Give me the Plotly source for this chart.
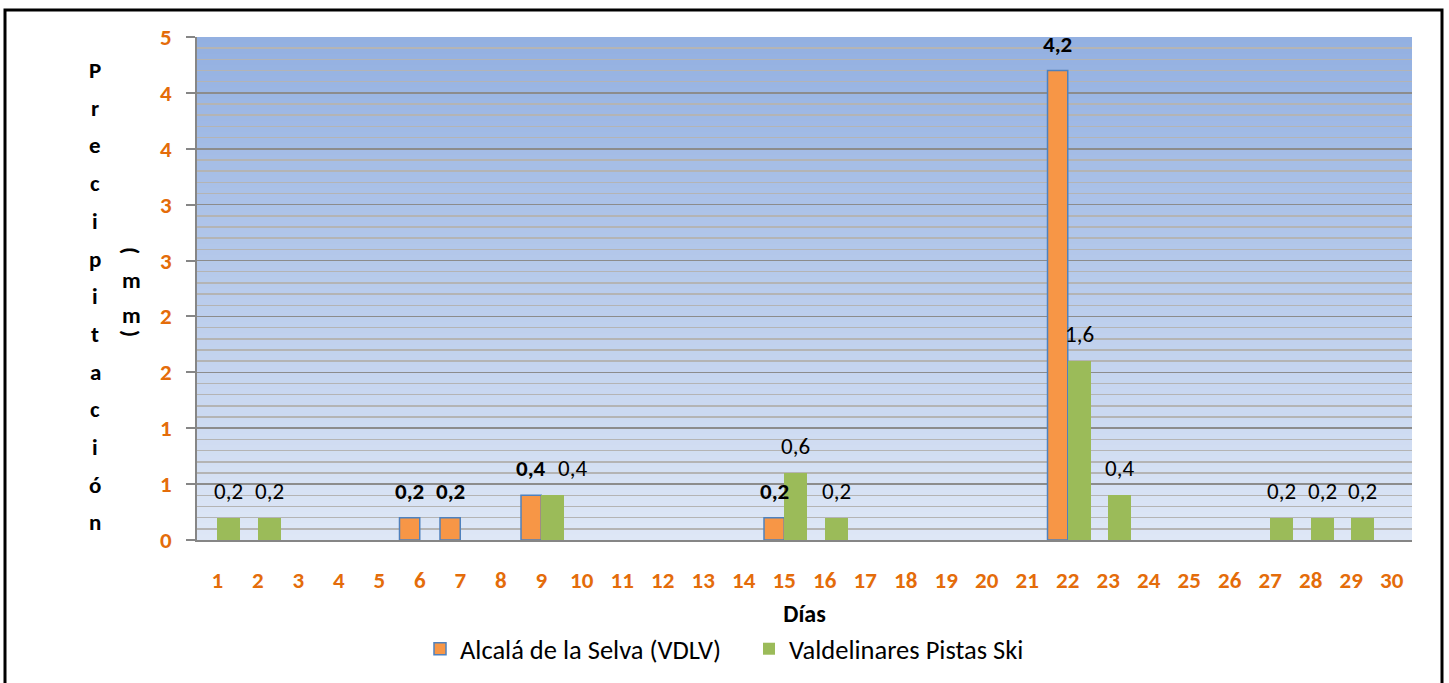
import plotly.graph_objects as go

# ---------------- data ----------------
days = list(range(1, 31))
alcala = [None, None, None, None, None, 0.2, 0.2, None, 0.4, None,
          None, None, None, None, 0.2, None, None, None, None, None,
          None, 4.2, None, None, None, None, None, None, None, None]
valdelinares = [0.2, 0.2, None, None, None, None, None, None, 0.4, None,
                None, None, None, None, 0.6, 0.2, None, None, None, None,
                None, 1.6, 0.4, None, None, None, 0.2, 0.2, 0.2, None]
series_names = ["Alcalá de la Selva (VDLV)", "Valdelinares Pistas Ski"]
x_ticktext = [str(d) for d in days]
y_tickvals = [0, 0.5, 1, 1.5, 2, 2.5, 3, 3.5, 4, 4.5]
y_ticktext = ["0", "1", "1", "2", "2", "3", "3", "4", "4", "5"]
x_title = "Días"
y_title_main = "Precipitación"
y_title_unit = "(mm)"

# ---------------- geometry / style ----------------
W, H = 1449, 683
# plot area in screen pixels
L, R, T, B = 197, 1412, 37, 540
FONT = "Carlito, Lato, sans-serif"
ORANGE = "#F79646"
GREEN = "#9BBB59"
BLUE = "#4F81BD"
TICKORANGE = "#E46C0A"


def px(x):
    return (x - L) / (R - L)


def py(y):
    return (B - y) / (B - T)


fig = go.Figure()
fig.add_trace(go.Bar(
    x=days, y=alcala, name=series_names[0], width=0.5, offset=-0.5,
    marker=dict(color=ORANGE, line=dict(color=BLUE, width=1.5)),
))
fig.add_trace(go.Bar(
    x=days, y=valdelinares, name=series_names[1], width=0.57, offset=0,
    marker=dict(color=GREEN, line=dict(width=0)),
))

annotations = []
# data labels
label_xshift_green = {9: 20}
for d, v in zip(days, alcala):
    if v:
        annotations.append(dict(
            x=d - 0.25, y=v, xref="x", yref="y", yshift=27, showarrow=False,
            text="<b>" + f"{v:.1f}".replace(".", ",") + "</b>",
            font=dict(family=FONT, size=23, color="#000000")))
for d, v in zip(days, valdelinares):
    if v:
        annotations.append(dict(
            x=d + 0.285, y=v, xref="x", yref="y", yshift=27,
            xshift=label_xshift_green.get(d, 0), showarrow=False,
            text=f"{v:.1f}".replace(".", ","),
            font=dict(family=FONT, size=23, color="#000000")))

# y tick labels (placed on the y scale, right-aligned left of the ticks)
for v, lab in zip(y_tickvals, y_ticktext):
    annotations.append(dict(
        x=px(174), y=v, xref="paper", yref="y", xanchor="right", yanchor="middle",
        showarrow=False, text="<b>" + lab + "</b>",
        font=dict(family=FONT, size=23, color=TICKORANGE)))

# stacked y-axis title
for i, ch in enumerate(y_title_main):
    annotations.append(dict(
        x=px(95), y=py(70 + 37.7 * i), xref="paper", yref="paper",
        showarrow=False, text="<b>" + ch + "</b>", xanchor="center", yanchor="middle",
        font=dict(family=FONT, size=23, color="#000000")))
unit_pos = [250, 280, 315, 333]
for ch, yy in zip(y_title_unit, unit_pos):
    rot = 90 if ch in "()" else 0
    annotations.append(dict(
        x=px(131), y=py(yy), xref="paper", yref="paper", textangle=rot,
        showarrow=False, text="<b>" + ch + "</b>", xanchor="center", yanchor="middle",
        font=dict(family=FONT, size=23, color="#000000")))

# gradient background strips
shapes = []
N = 90
top_c = (147, 176, 225)
bot_c = (222, 231, 246)
for i in range(N):
    t = i / (N - 1)
    c = tuple(round(top_c[k] + (bot_c[k] - top_c[k]) * t) for k in range(3))
    y1 = 1 - i / N
    y0 = 1 - (i + 1) / N - 0.002
    shapes.append(dict(type="rect", xref="paper", yref="paper", x0=0, x1=1,
                       y0=max(y0, 0), y1=y1, layer="below", line=dict(width=0),
                       fillcolor=f"rgb{c}"))
# outer border
shapes.append(dict(type="rect", xref="paper", yref="paper", x0=px(5), x1=px(1442),
                   y0=py(700), y1=py(10), layer="above",
                   line=dict(color="#000000", width=3)))

fig.update_layout(
    width=W, height=H, autosize=False,
    margin=dict(l=L, r=W - R, t=T, b=H - B, pad=0, autoexpand=False),
    paper_bgcolor="#FFFFFF", plot_bgcolor="#C5D3EE",
    barmode="overlay", bargap=0,
    font=dict(family=FONT, color="#000000"),
    showlegend=True,
    legend=dict(orientation="h", xref="paper", x=px(749), xanchor="center",
                yref="paper", y=py(649), yanchor="middle",
                font=dict(family=FONT, size=26.5, color="#000000"),
                bgcolor="rgba(0,0,0,0)", traceorder="normal",
                entrywidthmode="pixels", entrywidth=284),
    annotations=annotations,
    shapes=shapes,
    xaxis=dict(
        range=[0.5, 30.5], tickmode="array", tickvals=days, ticktext=x_ticktext,
        showline=True, linecolor="#868686", linewidth=2, ticks="",
        showgrid=False, zeroline=False, ticklabelstandoff=18, tickangle=0,
        automargin=False,
        tickfont=dict(family=FONT, size=23, color=TICKORANGE, weight="bold"),
        title=dict(text="<b>" + x_title + "</b>", standoff=13,
                   font=dict(family=FONT, size=24, color="#000000")),
    ),
    yaxis=dict(
        range=[0, 4.5], tickmode="array", tickvals=y_tickvals,
        showticklabels=False,
        showline=True, linecolor="#868686", linewidth=2, automargin=False,
        ticks="outside", ticklen=9, tickcolor="#868686", tickwidth=2,
        showgrid=True, gridcolor="#8C8C8C", gridwidth=1.5, zeroline=False,
        minor=dict(dtick=0.1, tick0=0, showgrid=True, gridcolor="#B4B4B4",
                   gridwidth=1.5, ticks=""),
    ),
)

fig.write_html("out.html", default_width=W, default_height=H,
               config={"displayModeBar": False, "staticPlot": True},
               post_script="document.body.style.margin='0';")
